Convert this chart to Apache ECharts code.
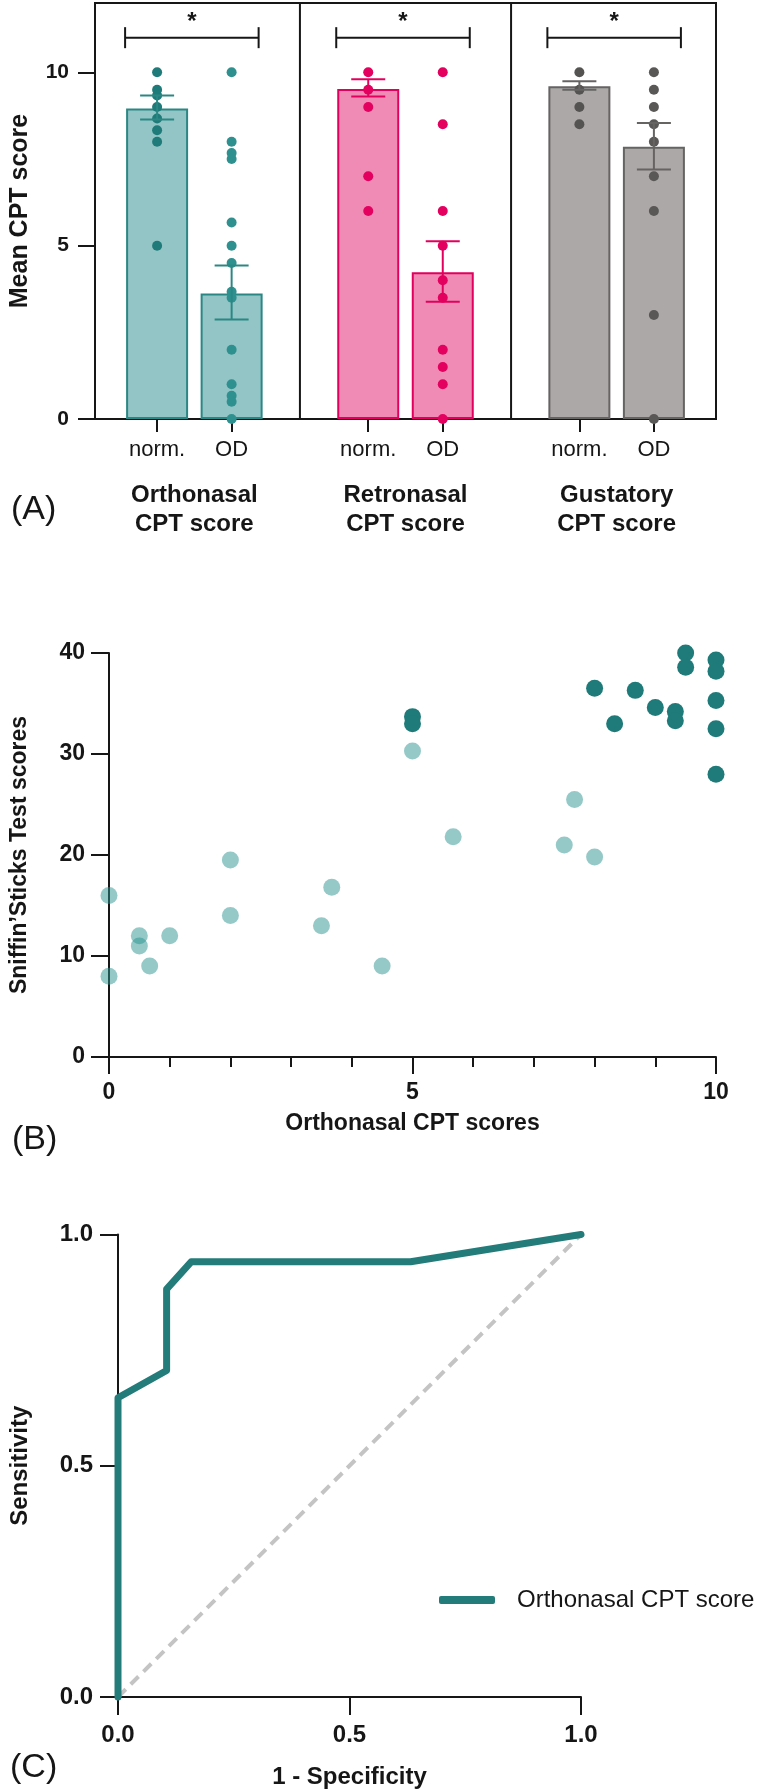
<!DOCTYPE html>
<html lang="en">
<head>
<meta charset="UTF-8">
<title>CPT scores</title>
<script src="https://cdnjs.cloudflare.com/ajax/libs/echarts/6.0.0/echarts.min.js"></script>
<style>
    html, body { margin: 0; padding: 0; background: #fff; }
    #chart { width: 760px; height: 1792px; }
</style>
</head>
<body>
<div id="chart"></div>
<script>
    // (A) mean CPT score per group, norm. vs OD
    const groupTitles = ['Orthonasal\nCPT score', 'Retronasal\nCPT score', 'Gustatory\nCPT score'];
    const subCategories = ['norm.', 'OD'];
    // bars in order: ortho norm, ortho OD, retro norm, retro OD, gust norm, gust OD
    const barMeans = [8.96, 3.62, 9.52, 4.23, 9.6, 7.85];
    const semLow = [8.64, 2.87, 9.3, 3.38, 9.5, 7.2];
    const semHigh = [9.33, 4.43, 9.8, 5.13, 9.74, 8.54];
    const individualScores = [
        [10, 9.5, 9.33, 9, 8.67, 8.33, 8, 5],
        [10, 8, 7.67, 7.5, 5.67, 5, 4.5, 3.67, 3.5, 2, 1, 0.67, 0.5, 0],
        [10, 9.5, 9, 7, 6],
        [10, 8.5, 6, 5, 4, 3.5, 2, 1.5, 1, 0],
        [10, 9.5, 9, 8.5],
        [10, 9.5, 9, 8.5, 8, 7, 6, 3, 0]
    ];
    const sigMarks = ['*', '*', '*'];
    const sigLevel = 11;
    const yTicksA = [0, 5, 10];

    // (B) orthonasal CPT vs Sniffin' Sticks, [cpt, sniffin]
    const odScores = [[0, 16], [0, 8], [0.5, 12], [0.5, 11], [0.67, 9], [1, 12], [2, 19.5], [2, 14],
        [3.5, 13], [3.67, 16.8], [4.5, 9], [5, 30.3], [5.67, 21.8], [7.5, 21], [7.67, 25.5], [8, 19.8]];
    const normScores = [[5, 33.7], [5, 33], [8, 36.5], [8.33, 33], [8.67, 36.3], [9, 34.6], [9.33, 34.2],
        [9.33, 33.3], [9.5, 40], [9.5, 38.6], [10, 39.3], [10, 38.2], [10, 35.3], [10, 32.5], [10, 28]];

    // (C) ROC curve
    const rocFpr = [0, 0, 0.105, 0.105, 0.158, 0.632, 1];
    const rocTpr = [0, 0.647, 0.706, 0.882, 0.941, 0.941, 1];
    const chanceLine = [[0, 0], [1, 1]];

    // panel A x layout (axis units 0..50)
    const SLOT = 17, FIRST = 5, STEP = 6;
    const barX = barMeans.map((_, i) => Math.floor(i / 2) * SLOT + FIRST + (i % 2) * STEP);
    const groupX = groupTitles.map((_, g) => g * SLOT + FIRST + STEP / 2);
    const dividerX = [SLOT - 0.5, 2 * SLOT - 0.5];

    const FONT = 'Arial, "Liberation Sans", Helvetica, sans-serif';
    const ink = '#161616';
    const groupFill = ['#93c5c6', '#f08bb5', '#aca8a8'];
    const groupLine = ['#2a8784', '#e2005e', '#666363'];
    const dotColor = ['#1f7b79', '#2f918f', '#e3005f', '#e3005f', '#555252', '#5a5757'];
    const teal = '#237c7a';
    const axisLineStyle = { color: ink, width: 2 };

    const chart = echarts.init(document.getElementById('chart'));

    const option = {
        animation: false,
        textStyle: { fontFamily: FONT, color: ink },
        grid: [
            { left: 89, top: 3, width: 627, height: 416, show: true, borderColor: ink, borderWidth: 2 },
            { left: 107, top: 653, width: 609, height: 404 },
            { left: 114.5, top: 1234.5, width: 466.5, height: 462.5 }
        ],
        xAxis: [
            {
                gridIndex: 0, type: 'value', min: 0, max: 50, position: 'bottom',
                axisLine: { show: true, lineStyle: axisLineStyle },
                axisTick: { show: true, customValues: barX, length: 13, lineStyle: axisLineStyle },
                axisLabel: {
                    customValues: barX, margin: 20, fontSize: 22, color: ink,
                    formatter: v => subCategories[barX.indexOf(v) % 2]
                },
                splitLine: { show: false }
            },
            {
                gridIndex: 0, type: 'value', min: 0, max: 50, position: 'bottom',
                axisLine: { show: false }, axisTick: { show: false }, splitLine: { show: false },
                axisLabel: {
                    customValues: groupX, margin: 62, fontSize: 24, fontWeight: 'bold', lineHeight: 29, color: ink,
                    formatter: v => groupTitles[groupX.indexOf(v)]
                }
            },
            {
                gridIndex: 1, type: 'value', min: 0, max: 10, interval: 1, position: 'bottom',
                axisLine: { show: true, lineStyle: axisLineStyle },
                axisTick: { show: true, length: 10, lineStyle: axisLineStyle },
                axisLabel: { show: false },
                splitLine: { show: false }
            },
            {
                gridIndex: 1, type: 'value', min: 0, max: 10, interval: 5, position: 'bottom',
                axisLine: { show: false },
                axisTick: { show: true, length: 17, lineStyle: axisLineStyle },
                axisLabel: { margin: 24, fontSize: 23, fontWeight: 'bold', color: ink },
                splitLine: { show: false },
                name: 'Orthonasal CPT scores', nameLocation: 'middle', nameGap: 55,
                nameTextStyle: { fontSize: 23, fontWeight: 'bold', color: ink }
            },
            {
                gridIndex: 2, type: 'value', min: 0, max: 1, interval: 0.5,
                axisLine: { show: true, lineStyle: axisLineStyle },
                axisTick: { show: true, length: 18, lineStyle: axisLineStyle },
                axisLabel: { margin: 26, fontSize: 24, fontWeight: 'bold', color: ink, formatter: v => v.toFixed(1) },
                splitLine: { show: false },
                name: '1 - Specificity', nameLocation: 'middle', nameGap: 68,
                nameTextStyle: { fontSize: 24, fontWeight: 'bold', color: ink }
            }
        ],
        yAxis: [
            {
                gridIndex: 0, type: 'value', min: 0, max: 12,
                axisLine: { show: true, lineStyle: axisLineStyle },
                axisTick: { show: true, customValues: yTicksA, length: 17, lineStyle: axisLineStyle },
                axisLabel: { customValues: yTicksA, margin: 26, fontSize: 21, fontWeight: 'bold', color: ink },
                splitLine: { show: false },
                name: 'Mean CPT score', nameLocation: 'middle', nameGap: 62,
                nameTextStyle: { fontSize: 25, fontWeight: 'bold', color: ink }
            },
            {
                gridIndex: 1, type: 'value', min: 0, max: 40, interval: 10,
                axisLine: { show: true, lineStyle: axisLineStyle },
                axisTick: { show: true, length: 18, lineStyle: axisLineStyle },
                axisLabel: { margin: 24, fontSize: 23, fontWeight: 'bold', color: ink },
                splitLine: { show: false },
                name: 'Sniffin\u2019Sticks Test scores', nameLocation: 'middle', nameGap: 78,
                nameTextStyle: { fontSize: 23, fontWeight: 'bold', color: ink }
            },
            {
                gridIndex: 2, type: 'value', min: 0, max: 1, interval: 0.5,
                axisLine: { show: true, lineStyle: axisLineStyle },
                axisTick: { show: true, length: 18, lineStyle: axisLineStyle },
                axisLabel: { margin: 25, fontSize: 24, fontWeight: 'bold', color: ink, formatter: v => v.toFixed(1) },
                splitLine: { show: false },
                name: 'Sensitivity', nameLocation: 'middle', nameGap: 86,
                nameTextStyle: { fontSize: 24, fontWeight: 'bold', color: ink }
            }
        ],
        legend: {
            data: ['Orthonasal CPT score'], left: 434, top: 1583,
            icon: 'roundRect', itemWidth: 56, itemHeight: 8,
            textStyle: { fontSize: 24, color: ink, padding: [0, 0, 0, 17] }
        },
        graphic: [['(A)', 11, 510], ['(B)', 12, 1140], ['(C)', 10, 1768]].map(([t, x, y]) => ({
            type: 'text', x: x, y: y,
            style: { text: t, fontSize: 34, fontFamily: FONT, fill: ink, verticalAlign: 'middle' }
        })),
        series: [
            // group dividers
            {
                type: 'custom', xAxisIndex: 0, yAxisIndex: 0, silent: true, z: 1,
                data: dividerX.map(x => [x, 0]),
                renderItem: (params, api) => {
                    const a = api.coord([api.value(0), 0]);
                    const b = api.coord([api.value(0), 12]);
                    return { type: 'line', shape: { x1: a[0], y1: a[1], x2: b[0], y2: b[1] }, style: { stroke: ink, lineWidth: 2 } };
                }
            },
            {
                type: 'bar', xAxisIndex: 0, yAxisIndex: 0, barWidth: 62, z: 2,
                data: barMeans.map((m, i) => ({
                    value: [barX[i], m],
                    itemStyle: { color: groupFill[i >> 1], borderColor: groupLine[i >> 1], borderWidth: 2 }
                }))
            },
            {
                type: 'scatter', xAxisIndex: 0, yAxisIndex: 0, symbolSize: 10, z: 3, clip: false,
                data: individualScores.flatMap((arr, i) => arr.map(v => ({
                    value: [barX[i], v], itemStyle: { color: dotColor[i], opacity: 1 }
                })))
            },
            // SEM error bars
            {
                type: 'custom', xAxisIndex: 0, yAxisIndex: 0, z: 4,
                encode: { x: 0, y: [1, 2] },
                data: barX.map((x, i) => [x, semLow[i], semHigh[i]]),
                renderItem: (params, api) => {
                    const lo = api.coord([api.value(0), api.value(1)]);
                    const hi = api.coord([api.value(0), api.value(2)]);
                    const style = { stroke: groupLine[params.dataIndex >> 1], lineWidth: 2 };
                    const half = 17;
                    return {
                        type: 'group', children: [
                            { type: 'line', shape: { x1: lo[0], y1: lo[1], x2: hi[0], y2: hi[1] }, style: style },
                            { type: 'line', shape: { x1: lo[0] - half, y1: lo[1], x2: lo[0] + half, y2: lo[1] }, style: style },
                            { type: 'line', shape: { x1: hi[0] - half, y1: hi[1], x2: hi[0] + half, y2: hi[1] }, style: style }
                        ]
                    };
                }
            },
            // significance brackets
            {
                type: 'custom', xAxisIndex: 0, yAxisIndex: 0, z: 4, silent: true,
                encode: { x: [0, 1], y: 2 },
                data: groupX.map((_, g) => [barX[2 * g], barX[2 * g + 1], sigLevel]),
                renderItem: (params, api) => {
                    const l = api.coord([api.value(0), api.value(2)]);
                    const r = api.coord([api.value(1), api.value(2)]);
                    const x1 = l[0] - 32, x2 = r[0] + 27, y = l[1];
                    const style = { stroke: ink, lineWidth: 2 };
                    return {
                        type: 'group', children: [
                            { type: 'line', shape: { x1: x1, y1: y, x2: x2, y2: y }, style: style },
                            { type: 'line', shape: { x1: x1, y1: y - 10.5, x2: x1, y2: y + 10.5 }, style: style },
                            { type: 'line', shape: { x1: x2, y1: y - 10.5, x2: x2, y2: y + 10.5 }, style: style },
                            {
                                type: 'text', x: (x1 + x2) / 2, y: y - 15,
                                style: { text: sigMarks[params.dataIndex], fontSize: 24, fontWeight: 'bold', fontFamily: FONT, fill: ink, align: 'center', verticalAlign: 'middle' }
                            }
                        ]
                    };
                }
            },
            // (B) scatter
            {
                type: 'scatter', xAxisIndex: 2, yAxisIndex: 1, symbolSize: 17, z: 2, clip: false,
                data: odScores, itemStyle: { color: 'rgb(41,147,145)', opacity: 0.5 }
            },
            {
                type: 'scatter', xAxisIndex: 2, yAxisIndex: 1, symbolSize: 17, z: 3, clip: false,
                data: normScores, itemStyle: { color: '#1f7b79', opacity: 1 }
            },
            // (C) ROC
            {
                type: 'line', name: 'chance', xAxisIndex: 4, yAxisIndex: 2, data: chanceLine, symbol: 'none',
                silent: true, z: 1, clip: false,
                lineStyle: { color: '#c4c4c4', width: 4, type: [11, 7] }
            },
            {
                type: 'line', name: 'Orthonasal CPT score', xAxisIndex: 4, yAxisIndex: 2, symbol: 'none', z: 3, clip: false,
                data: rocFpr.map((x, i) => [x, rocTpr[i]]),
                itemStyle: { color: teal },
                lineStyle: { color: teal, width: 7, cap: 'round', join: 'round' }
            }
        ]
    };

    chart.setOption(option);
</script>
</body>
</html>
